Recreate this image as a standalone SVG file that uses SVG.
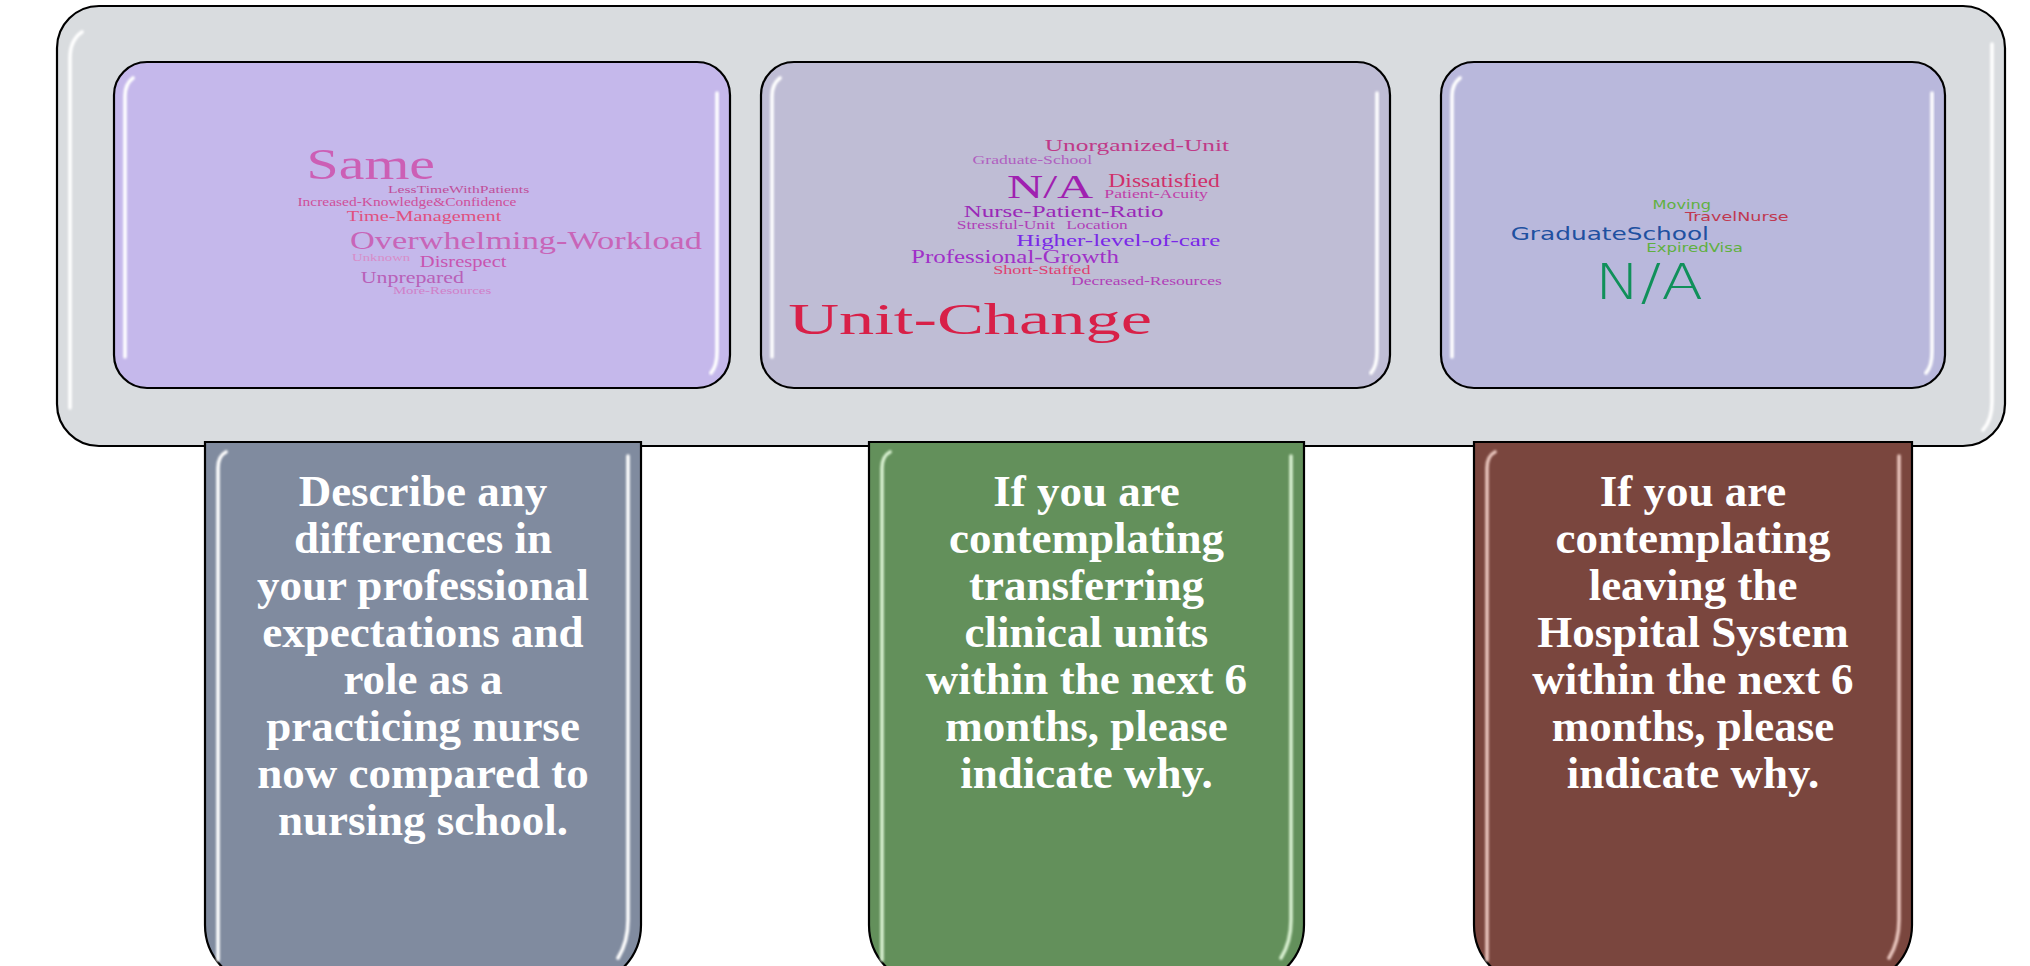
<svg xmlns="http://www.w3.org/2000/svg" width="2030" height="966" viewBox="0 0 2030 966">
<defs>
<filter id="soft" x="-50%" y="-5%" width="200%" height="110%"><feGaussianBlur stdDeviation="0.9"/></filter>
</defs>
<style>
.frame{stroke:#000;stroke-width:2.2}
.gloss{fill:none;stroke:#fff;stroke-width:3.6;stroke-linecap:round;filter:url(#soft)}
.q{font-family:"Liberation Serif","Times New Roman",serif;font-weight:bold;font-size:45px;fill:#fff;text-anchor:middle}
.wc1{font-family:"Liberation Serif",serif}
.wc3{font-family:"DejaVu Sans",sans-serif}
</style>
<rect width="2030" height="966" fill="#fff"/>
<g id="panel">
<rect class="frame" x="57" y="6" width="1948" height="440" rx="42" fill="#d9dcdf"/>
<path class="gloss" d="M70,408 V58 Q70,40 82,32"/>
<path class="gloss" d="M1992,44 V402 Q1992,420 1983,430"/>
</g>
<g id="cloud-differences">
<rect class="frame" x="114" y="62" width="616" height="326" rx="33" fill="#c5b8eb"/>
<path class="gloss" d="M125,357 V96 Q125,84 133,78"/>
<path class="gloss" d="M717,93 V352 Q717,366 711,373"/>
<g class="wc1" lengthAdjust="spacingAndGlyphs">
<text x="306.6" y="178.7" font-size="44" fill="#cc5fb5" textLength="128.4" lengthAdjust="spacingAndGlyphs">Same</text>
<text x="388" y="193" font-size="11" fill="#c0509a" textLength="141.3" lengthAdjust="spacingAndGlyphs">LessTimeWithPatients</text>
<text x="297.4" y="206.3" font-size="12" fill="#cf4f9a" textLength="219.1" lengthAdjust="spacingAndGlyphs">Increased-Knowledge&amp;Confidence</text>
<text x="346.8" y="221.3" font-size="15" fill="#e0507f" textLength="154.5" lengthAdjust="spacingAndGlyphs">Time-Management</text>
<text x="350" y="249" font-size="25" fill="#c865b8" textLength="352" lengthAdjust="spacingAndGlyphs">Overwhelming-Workload</text>
<text x="352" y="261.3" font-size="10" fill="#d88cc8" textLength="58.2" lengthAdjust="spacingAndGlyphs">Unknown</text>
<text x="419.8" y="267.3" font-size="16" fill="#c855b0" textLength="86.7" lengthAdjust="spacingAndGlyphs">Disrespect</text>
<text x="360.8" y="283" font-size="17" fill="#b860b8" textLength="103.2" lengthAdjust="spacingAndGlyphs">Unprepared</text>
<text x="392.9" y="294" font-size="10.5" fill="#d080c8" textLength="98.3" lengthAdjust="spacingAndGlyphs">More-Resources</text>
</g>
</g>
<g id="cloud-transfer">
<rect class="frame" x="761" y="62" width="629" height="326" rx="33" fill="#bfbdd5"/>
<path class="gloss" d="M772,357 V96 Q772,84 780,78"/>
<path class="gloss" d="M1377,93 V352 Q1377,366 1371,373"/>
<g class="wc1">
<text x="1044.7" y="150.6" font-size="17" fill="#c03a88" textLength="184.4" lengthAdjust="spacingAndGlyphs">Unorganized-Unit</text>
<text x="972.6" y="163.7" font-size="12.5" fill="#b060c0" textLength="119.5" lengthAdjust="spacingAndGlyphs">Graduate-School</text>
<text x="1007" y="198.4" font-size="34" fill="#a020b0" textLength="86.3" lengthAdjust="spacingAndGlyphs">N/A</text>
<text x="1108.3" y="187.4" font-size="18.5" fill="#d0306a" textLength="111.5" lengthAdjust="spacingAndGlyphs">Dissatisfied</text>
<text x="1104.3" y="198.4" font-size="13" fill="#c040a8" textLength="103.7" lengthAdjust="spacingAndGlyphs">Patient-Acuity</text>
<text x="963.7" y="216.8" font-size="17.5" fill="#9a28b8" textLength="199.8" lengthAdjust="spacingAndGlyphs">Nurse-Patient-Ratio</text>
<text x="956.8" y="228.5" font-size="12.5" fill="#b040b8" textLength="98" lengthAdjust="spacingAndGlyphs">Stressful-Unit</text>
<text x="1066.2" y="228.5" font-size="12.5" fill="#b040b8" textLength="61.6" lengthAdjust="spacingAndGlyphs">Location</text>
<text x="1016.3" y="246.2" font-size="17.5" fill="#7a28e8" textLength="203.9" lengthAdjust="spacingAndGlyphs">Higher-level-of-care</text>
<text x="911" y="262.6" font-size="18" fill="#a030c8" textLength="207.9" lengthAdjust="spacingAndGlyphs">Professional-Growth</text>
<text x="993.2" y="273.7" font-size="13" fill="#e04070" textLength="97.3" lengthAdjust="spacingAndGlyphs">Short-Staffed</text>
<text x="1071" y="285.4" font-size="13" fill="#b040b8" textLength="150.8" lengthAdjust="spacingAndGlyphs">Decreased-Resources</text>
<text x="788.2" y="333.9" font-size="45" fill="#d82048" textLength="363.9" lengthAdjust="spacingAndGlyphs">Unit-Change</text>
</g>
</g>
<g id="cloud-leaving">
<rect class="frame" x="1441" y="62" width="504" height="326" rx="33" fill="#b9b8dc"/>
<path class="gloss" d="M1452,357 V96 Q1452,84 1460,78"/>
<path class="gloss" d="M1932,93 V352 Q1932,366 1926,373"/>
<g class="wc3">
<text x="1652.5" y="208.5" font-size="13" fill="#60b040" textLength="58.5" lengthAdjust="spacingAndGlyphs">Moving</text>
<text x="1685" y="220.8" font-size="12.5" fill="#c03850" textLength="103.6" lengthAdjust="spacingAndGlyphs">TravelNurse</text>
<text x="1510.7" y="239.6" font-size="18" fill="#2050a0" textLength="198.3" lengthAdjust="spacingAndGlyphs">GraduateSchool</text>
<text x="1646.2" y="252" font-size="12.5" fill="#60b040" textLength="96.8" lengthAdjust="spacingAndGlyphs">ExpiredVisa</text>
<text x="1594.7" y="299.4" font-size="49" font-weight="300" fill="#10905a" textLength="108.6" lengthAdjust="spacingAndGlyphs">N/A</text>
</g>
</g>
<g id="q-differences">
<path class="frame" d="M205,442 H641 V925 A60,60 0 0 1 581,985 H265 A60,60 0 0 1 205,925 Z" fill="#808b9f"/>
<path class="gloss" d="M218,960 V468 Q218,456 226,452"/>
<path class="gloss" d="M628,456 V920 Q628,942 618,958"/>
<text class="q" x="423" y="506">Describe any</text>
<text class="q" x="423" y="553">differences in</text>
<text class="q" x="423" y="600">your professional</text>
<text class="q" x="423" y="647">expectations and</text>
<text class="q" x="423" y="694">role as a</text>
<text class="q" x="423" y="741">practicing nurse</text>
<text class="q" x="423" y="788">now compared to</text>
<text class="q" x="423" y="835">nursing school.</text>
</g>
<g id="q-transfer">
<path class="frame" d="M869,442 H1304 V925 A60,60 0 0 1 1244,985 H929 A60,60 0 0 1 869,925 Z" fill="#63905b"/>
<path class="gloss" d="M882,960 V468 Q882,456 890,452" style="stroke:#d8f0d0"/>
<path class="gloss" d="M1291,456 V920 Q1291,942 1281,958" style="stroke:#d8f0d0"/>
<text class="q" x="1086.5" y="506">If you are</text>
<text class="q" x="1086.5" y="553">contemplating</text>
<text class="q" x="1086.5" y="600">transferring</text>
<text class="q" x="1086.5" y="647">clinical units</text>
<text class="q" x="1086.5" y="694">within the next 6</text>
<text class="q" x="1086.5" y="741">months, please</text>
<text class="q" x="1086.5" y="788">indicate why.</text>
</g>
<g id="q-leaving">
<path class="frame" d="M1474,442 H1912 V925 A60,60 0 0 1 1852,985 H1534 A60,60 0 0 1 1474,925 Z" fill="#7a463e"/>
<path class="gloss" d="M1487,960 V468 Q1487,456 1495,452" style="stroke:#e8c4bc"/>
<path class="gloss" d="M1899,456 V920 Q1899,942 1889,958" style="stroke:#e8c4bc"/>
<text class="q" x="1693" y="506">If you are</text>
<text class="q" x="1693" y="553">contemplating</text>
<text class="q" x="1693" y="600">leaving the</text>
<text class="q" x="1693" y="647">Hospital System</text>
<text class="q" x="1693" y="694">within the next 6</text>
<text class="q" x="1693" y="741">months, please</text>
<text class="q" x="1693" y="788">indicate why.</text>
</g>
<g id="connectors"/>
</svg>
